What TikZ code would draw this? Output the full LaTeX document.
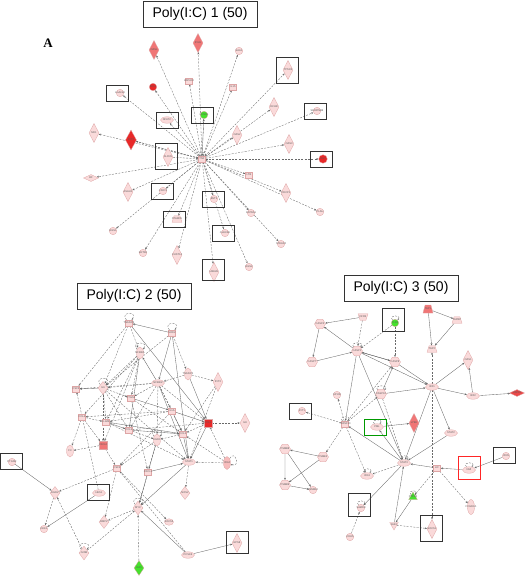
\documentclass[tikz,border=0pt]{standalone}
\usepackage{fontspec}
\setmainfont{Liberation Sans}
\newfontfamily\serifA{Liberation Serif}
\usetikzlibrary{shapes.geometric,arrows.meta}
\pgfdeclarelayer{bg}
\pgfsetlayers{bg,main}
\definecolor{genefill}{RGB}{250,218,218}
\definecolor{geneline}{RGB}{222,165,165}
\definecolor{genemid}{RGB}{240,118,118}
\definecolor{genered}{RGB}{232,40,40}
\definecolor{genegreen}{RGB}{70,225,45}
\definecolor{linkgray}{RGB}{105,105,105}

\begin{document}
\begin{tikzpicture}[x=1pt,y=-1pt] % one unit is one pixel of the figure
\tikzset{gene/.style={draw=geneline,fill=genefill,line width=0.3pt,inner xsep=-3pt,inner ysep=0pt,text=black!65,font=\fontsize{2.6}{3}\selectfont}} % every molecule, label may overflow
\tikzset{glabel/.style={inner sep=0pt,text=black!65,font=\fontsize{2.6}{3}\selectfont}}
\tikzset{tlab/.style={label={[glabel]center:#1}}} % name written over an empty shape
\tikzset{sq/.style={gene,rectangle,minimum width=7pt,minimum height=6pt}}
\tikzset{circ/.style={gene,circle,minimum size=7.5pt}}
\tikzset{ell/.style={gene,ellipse,minimum width=13pt,minimum height=6.5pt}}
\tikzset{vell/.style={gene,ellipse,minimum width=7pt,minimum height=12pt}}
\tikzset{dia/.style={gene,diamond,minimum width=10pt,minimum height=19pt}}
\tikzset{hdia/.style={gene,diamond,minimum width=15pt,minimum height=7pt}}
\tikzset{trap/.style={gene,trapezium,inner sep=1pt,trapezium stretches=true,trapezium left angle=70,trapezium right angle=70,minimum width=10pt,minimum height=6.5pt}}
\tikzset{hexa/.style={gene,regular polygon,regular polygon sides=6,minimum size=11pt}}
\tikzset{tri/.style={gene,regular polygon,regular polygon sides=3,minimum size=10pt}}
\tikzset{frame/.style={draw=black!80,line width=0.9pt,minimum width=22pt,minimum height=16pt}} % box round a gene
\tikzset{frametall/.style={frame,minimum height=26pt}}
\tikzset{title/.style={draw=black!80,line width=0.8pt,minimum width=114pt,minimum height=26pt,font=\fontsize{14}{16}\selectfont}}
\tikzset{link/.style={draw=linkgray,line width=0.35pt,-{Stealth[length=2.4pt,width=1.9pt]}}}
\tikzset{dlink/.style={link,dash pattern=on 2pt off 1.3pt}}
\tikzset{selfloop/.style={draw=linkgray,line width=0.35pt,dash pattern=on 2pt off 1.3pt,-{Stealth[length=2pt,width=1.6pt]},out=130,in=50,min distance=#1}, selfloop/.default=9pt}
\useasboundingbox (0,0) rectangle (525,580);

% titles
\node[title] (t1) at (200,14) {Poly(I:C) 1 (50)};
\node[title] (t2) at (134,296) {Poly(I:C) 2 (50)};
\node[title] (t3) at (401,288) {Poly(I:C) 3 (50)};
\node[font=\serifA\bfseries\fontsize{13}{14}\selectfont] (lblA) at (48,43) {A};

% panel 1
\node[sq] (tnf) at (202,159) {TNF};
\node[dia,fill=genemid] (oasl) at (154,50) {OASL};
\node[dia,fill=genemid] (ifih1) at (198,43) {IFIH1};
\node[circ] (saa1) at (239,51) {SAA1};
\node[circ] (lgals9) at (120,93) {LGALS9};
\node[circ,fill=genered] (irg1) at (153,87) {IRG1};
\node[sq] (hspa13) at (189,81) {HSPA13};
\node[sq] (il15) at (233,87) {IL15};
\node[ell] (nfatc) at (167,120) {NFATC};
\node[circ,fill=genegreen] (ccnd1) at (204,115) {CCND1};
\node[dia] (tp53i3) at (288,70) {TP53I3};
\node[dia] (dchr) at (274,107) {DCHR};
\node[circ] (serpinb9) at (317,111) {SERPINB9};
\node[dia] (oas2) at (237,135) {OAS2};
\node[dia] (oas3) at (289,144) {OAS3};
\node[circ,fill=genered,minimum size=8.5pt] (ifi27) at (323,159) {IFI27};
\node[sq] (ltb) at (249,175) {LTB};
\node[dia] (cdcp1) at (286,193) {CDCP1};
\node[circ] (plau) at (320,212) {PLAU};
\node[circ] (katna1) at (251,213) {KATNA1};
\node[circ] (steap4) at (281,244) {STEAP4};
\node[circ] (bst2) at (214,199) {BST2};
\node[circ] (clec4e) at (225,233) {CLEC4E};
\node[dia] (ube2h) at (214,272) {UBE2H};
\node[circ] (rgs2) at (249,267) {RGS2};
\node[trap,tlab=STARD5] (stard5) at (177,219) {};
\node[dia] (chst14) at (177,255) {CHST14};
\node[circ] (krt80) at (143,253) {KRT80};
\node[circ] (rgs1) at (113,231) {RGS1};
\node[circ] (cd274) at (163,191) {CD274};
\node[dia] (asah1) at (128,192) {ASAH1};
\node[hdia] (bf) at (91,178) {BF};
\node[dia] (mx1) at (94,133) {MX1};
\node[dia,fill=genered,minimum width=11pt,minimum height=20pt] (ifit3) at (131,140) {IFIT3};
\node[dia] (slfn5) at (168,157) {SLFN5};
\node[frame] (f-lgals9) at (117,93) {};
\node[frame] (f-nfatc) at (167,120) {};
\node[frame] (f-ccnd1) at (202,115) {};
\node[frametall] (f-tp53i3) at (287,70) {};
\node[frame] (f-serpinb9) at (315,111) {};
\node[frame] (f-ifi27) at (321,159) {};
\node[frame] (f-bst2) at (213,199) {};
\node[frame] (f-clec4e) at (223,233) {};
\node[frametall,minimum height=21pt] (f-ube2h) at (213,270) {};
\node[frame] (f-stard5) at (174,219) {};
\node[frame] (f-cd274) at (162,191) {};
\node[frametall] (f-slfn5) at (166,156) {};

% panel 2
\node[sq] (tnfaip6) at (129,323) {TNFAIP6};
\node[sq] (sod2) at (172,333) {SOD2};
\node[vell] (nfkbia) at (140,353) {NFKBIA};
\node[vell] (tnfaip2) at (188,374) {TNFAIP2};
\node[dia] (ifit2) at (218,382) {IFIT2};
\node[ell] (nfkbiz) at (158,383) {NFKBIZ};
\node[sq] (csf3) at (76,389) {CSF3};
\node[dia,minimum height=13pt] (il6) at (103,388) {IL6};
\node[sq] (ptgs2) at (131,398) {PTGS2};
\node[sq] (il1a) at (172,411) {IL1A};
\node[sq] (ccl4) at (82,417) {CCL4};
\node[sq] (il12b) at (106,422) {IL12B};
\node[sq] (ccl3) at (129,430) {CCL3};
\node[sq,fill=genered,minimum width=7.5pt,minimum height=7.5pt] (ccl5) at (208,423) {CCL5};
\node[dia] (il8) at (245,423) {IL8};
\node[sq] (ccl2) at (183,434) {CCL2};
\node[vell] (egr1) at (157,440) {EGR1};
\node[sq,fill=genemid,minimum width=7.5pt,minimum height=7.5pt] (cxcl2) at (103,445) {CXCL2};
\node[vell] (f3) at (70,451) {F3};
\node[ell] (stat1) at (189,462) {STAT1};
\node[vell,fill=genefill!70!genemid,minimum height=13pt] (ifi44) at (227,463) {IFI44};
\node[sq] (csf2) at (117,468) {CSF2};
\node[sq] (cxcl1) at (148,472) {CXCL1};
\node[circ] (ptgdr) at (12,462) {PTGDR};
\node[dia,minimum height=13pt] (egr2) at (55,493) {EGR2};
\node[ell] (hes1) at (99,493) {HES1};
\node[dia,minimum height=13pt] (nos2) at (185,493) {NOS2};
\node[dia,minimum height=14pt] (myc) at (138,508) {MYC};
\node[dia,minimum height=13pt] (bmp2) at (104,522) {BMP2};
\node[ell,minimum width=9pt] (socs3) at (169,522) {SOCS3};
\node[circ] (dkk1) at (44,529) {DKK1};
\node[dia,minimum height=14pt] (junb) at (84,553) {JUNB};
\node[dia,fill=genegreen,minimum height=15pt] (igf1) at (139,568) {IGF1};
\node[ell] (pcsk6) at (188,555) {PCSK6};
\node[dia] (eps8) at (237,543) {EPS8};
\node[frame] (f-ptgdr) at (11,461) {};
\node[frame] (f-hes1) at (98,492) {};
\node[frametall,minimum height=22pt] (f-eps8) at (237,542) {};

% panel 3
\node[hexa] (casp4) at (320,324) {CASP4};
\node[trap,shape border rotate=180,tlab=DFFB] (dffb) at (363,317) {};
\node[circ,fill=genegreen] (tlr3) at (395,323) {TLR3};
\node[trap,fill=genemid,minimum height=8pt,tlab=TAP1] (tap1) at (428,309) {};
\node[trap,tlab=TAPBP] (tapbp) at (457,320) {};
\node[hexa] (casp1) at (357,351) {CASP1};
\node[hexa] (casp7) at (312,362) {CASP7};
\node[hexa] (casp8) at (395,362) {CASP8};
\node[trap,tlab=TAP2] (tap2) at (432,349) {};
\node[dia] (oas1) at (468,360) {OAS1};
\node[ell] (irf1) at (432,387) {IRF1};
\node[ell] (irf2) at (473,396) {IRF2};
\node[hdia,fill=genered!85] (usp18) at (517,393) {USP18};
\node[circ] (sp100) at (337,395) {SP100};
\node[hexa] (casp10) at (381,394) {CASP10};
\node[circ] (ifit1) at (302,411) {IFIT1};
\node[sq] (tnfsf10) at (345,424) {TNFSF10};
\node[ell] (pml) at (377,427) {PML};
\node[dia,fill=genemid] (ly6e) at (414,423) {LY6E};
\node[ell] (stat2) at (451,433) {STAT2};
\node[hexa] (psme2) at (323,457) {PSME2};
\node[hexa] (psmb8) at (285,449) {PSMB8};
\node[hexa] (psmb9) at (285,485) {PSMB9};
\node[circ] (psmb10) at (313,490) {PSMB10};
\node[ell] (stat3) at (404,463) {STAT3};
\node[sq] (lif) at (437,468) {LIF};
\node[ell] (nmi) at (469,470) {NMI};
\node[circ] (ifi35) at (506,456) {IFI35};
\node[ell] (ifi16) at (367,476) {IFI16};
\node[tri,fill=genegreen] (ptpn2) at (413,497) {PTPN2};
\node[vell,minimum height=15pt] (fcgr1a) at (471,507) {FCGR1A};
\node[circ] (samd9) at (361,508) {SAMD9};
\node[tri,shape border rotate=180] (jak2) at (394,525) {JAK2};
\node[dia] (socs1) at (432,529) {SOCS1};
\node[circ] (cdh5) at (350,537) {CDH5};
\node[frametall,minimum height=23pt] (f-tlr3) at (393,320) {};
\node[frame] (f-ifit1) at (300,411) {};
\node[frame,draw=green!60!black] (f-pml) at (375,427) {};
\node[frametall,minimum height=23pt,draw=red!85] (f-nmi) at (469,468) {};
\node[frame] (f-ifi35) at (504,455) {};
\node[frametall,minimum height=23pt] (f-samd9) at (359,505) {};
\node[frametall] (f-socs1) at (431,528) {};

\begin{pgfonlayer}{bg}
% panel 1: every gene hangs on TNF
\foreach \g in {oasl,ifih1,saa1,lgals9,irg1,hspa13,il15,nfatc,tp53i3,dchr,serpinb9,oas2,oas3,ifi27,ltb,cdcp1,plau,katna1,steap4,bst2,clec4e,ube2h,rgs2,stard5,chst14,krt80,rgs1,cd274,asah1,bf,mx1,ifit3}
  \draw[dlink] (tnf) -- (\g);
\draw[dlink] (ccnd1) -- (tnf);
\draw[dlink] (slfn5) -- (tnf);
\draw[dlink] (tnf.north) -- (ccnd1);
\draw[dlink] (ifit3) -- (tnf);
\draw[selfloop=6pt] (tnf) to (tnf);

% panel 2
\foreach \a/\b in {sod2/tnfaip6,nfkbiz/nfkbia,il6/csf3,nfkbiz/stat1,il1a/ccl2,il12b/ccl2,ccl3/ccl2,ccl5/stat1,ccl2/stat1,il12b/ccl3,ptgs2/il1a,sod2/stat1,tnfaip6/ccl5,nfkbia/ccl3,il1a/ccl5,stat1/myc,cxcl1/stat1,ptgdr/egr2,hes1/dkk1,pcsk6/eps8,pcsk6/myc,tnfaip2/ccl5,egr1/myc,sod2/nfkbiz}
  \draw[link] (\a) -- (\b);
\foreach \a/\b in {tnfaip6/csf3,tnfaip6/il6,sod2/il6,nfkbia/il6,nfkbia/ptgs2,nfkbia/ccl4,nfkbia/il12b,nfkbia/cxcl2,nfkbiz/csf3,nfkbiz/il6,nfkbiz/ptgs2,nfkbiz/il1a,nfkbiz/ccl2,nfkbiz/egr1,nfkbiz/ccl3,nfkbiz/ccl5,tnfaip2/nfkbiz,tnfaip2/ifit2,ifit2/stat1,il6/ptgs2,il6/ccl3,il6/cxcl2,il6/stat1,il6/il12b,ptgs2/ccl2,ptgs2/cxcl1,il1a/ccl4,il1a/csf2,il1a/il12b,ccl4/il12b,ccl4/f3,ccl4/cxcl2,il12b/stat1,ccl3/egr1,ccl5/il8,ccl5/ccl2,ifi44/ccl5,ccl2/egr1,egr1/cxcl1,egr1/csf2,cxcl2/f3,cxcl2/csf2,ifi44/stat1,stat1/nos2,csf2/egr2,csf2/bmp2,csf2/socs3,pcsk6/csf2,cxcl1/myc,egr2/dkk1,junb/egr2,myc/bmp2,igf1/myc,junb/myc,hes1/csf3,ifit2/ccl2,ifi44/ccl2,tnfaip6/nfkbia,sod2/tnfaip2,ccl3/ccl5}
  \draw[dlink] (\a) -- (\b);
\foreach \g in {tnfaip6,sod2,nfkbia,il6,egr1,myc,junb}
  \draw[selfloop=11pt] (\g) to (\g);
\draw[selfloop=11pt,out=60,in=-20] (ifi44) to (ifi44);

% panel 3
\foreach \a/\b in {dffb/casp4,casp4/casp7,casp1/casp4,casp7/casp1,casp1/casp8,casp8/casp1,casp8/irf1,tap1/tapbp,tap1/tap2,tapbp/tap2,irf1/oas1,irf2/oas1,irf1/irf2,irf2/usp18,casp10/irf1,casp10/casp8,casp1/irf1,pml/ly6e,irf1/stat3,irf1/stat2,lif/stat3,nmi/lif,ifi35/nmi,ptpn2/jak2,stat3/samd9,psme2/psmb8,psme2/psmb9,psmb8/psmb10,psmb9/psmb10,psmb8/psmb9,stat3/tnfsf10,stat3/pml,jak2/stat3,casp1/stat3,stat2/stat3,casp1/tnfsf10}
  \draw[link] (\a) -- (\b);
\foreach \a/\b in {dffb/casp1,tlr3/casp1,tlr3/casp8,irf1/tap2,tnfsf10/ifit1,tnfsf10/casp8,tnfsf10/casp10,tnfsf10/sp100,irf1/socs1,stat3/ifi16,lif/fcgr1a,lif/ptpn2,jak2/socs1,cdh5/samd9,tnfsf10/psme2,tnfsf10/ifi16,casp10/stat3}
  \draw[dlink] (\a) -- (\b);
\foreach \g in {tlr3,casp1,casp10,tnfsf10,pml,stat3,nmi,ifi16,ptpn2,samd9}
  \draw[selfloop=7pt] (\g) to (\g);
\end{pgfonlayer}
\end{tikzpicture}
\end{document}
